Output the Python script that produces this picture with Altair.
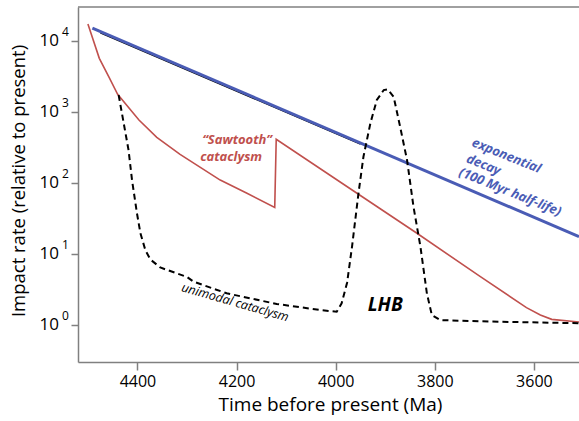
import altair as alt
import pandas as pd

# ---- data -------------------------------------------------------------
# Exponential decay with a 100 Myr half-life (straight on a log axis)
decay_time = [4491, 3509]
decay_rate = [15100, 17.4]

# thin dark companion line drawn just beneath the decay curve
under_time = [4475, 3950]
under_rate = [12900, 348]

# "Sawtooth" cataclysm
saw_time = [4500, 4477, 4458, 4440, 4397, 4361, 4314, 4233, 4179, 4123,
            4120, 3957, 3836, 3708, 3615, 3587, 3564, 3509]
saw_rate = [17200, 5650, 3110, 1760, 764, 436, 251, 109, 71, 45,
            410, 71, 19.4, 4.75, 1.74, 1.37, 1.19, 1.09]

# Unimodal cataclysm (Late Heavy Bombardment spike)
uni_time = [4438, 4418, 4411, 4401, 4394, 4384, 4374, 4354, 4300, 4287,
            4220, 4119, 4031, 3998, 3988, 3977, 3967, 3954, 3944, 3930,
            3917, 3903, 3895, 3883, 3870, 3856, 3843, 3829, 3816, 3806,
            3789, 3668, 3509]
uni_rate = [1720, 288, 109, 37, 19.4, 11.2, 8.3, 6.4, 4.7, 4.04,
            2.77, 1.96, 1.61, 1.52, 2.0, 3.9, 12.6, 71, 232, 687,
            1460, 2020, 2065, 1620, 616, 209, 46, 12.6, 2.77, 1.37,
            1.16, 1.1, 1.05]

x_ticks = [4400, 4200, 4000, 3800, 3600]
y_exponents = [0, 1, 2, 3, 4]

# ---- styling ----------------------------------------------------------
FONT = "Open Sans"
W, H = 501, 355
AXIS_GREY = "#808080"
RED = "#c0504d"
BLUE = "#4a5cb5"

xscale = alt.Scale(domain=[4520, 3509], nice=False, zero=False)
yscale = alt.Scale(type="log", domain=[0.2985, 29850], nice=False)

X = alt.X("time:Q", scale=xscale,
          axis=alt.Axis(values=x_ticks, format="d", grid=False,
                        title="Time before present (Ma)",
                        tickSize=8, tickColor=AXIS_GREY, tickWidth=1.5,
                        domainColor=AXIS_GREY, domainWidth=1.5,
                        labelFont=FONT, labelFontSize=16, labelColor="black",
                        labelPadding=3,
                        titleFont=FONT, titleFontSize=19, titleFontWeight="normal",
                        titleColor="black", titleX=252, titleY=42,
                        titleBaseline="middle", titleAlign="center"))
Y = alt.Y("rate:Q", scale=yscale,
          axis=alt.Axis(values=[10.0 ** e for e in y_exponents], labels=False,
                        grid=False, title="Impact rate (relative to present)",
                        tickSize=7, tickColor=AXIS_GREY, tickWidth=1.5,
                        domainColor=AXIS_GREY, domainWidth=1.5,
                        titleFont=FONT, titleFontSize=18.5, titleFontWeight="normal",
                        titleColor="black", titleAngle=-90, titleX=-60,
                        titleY=173.5, titleBaseline="middle",
                        titleAlign="center"))


def frame(t, r):
    return pd.DataFrame({"time": t, "rate": r, "order": range(len(t))})


under = alt.Chart(frame(under_time, under_rate)).mark_line(
    color="black", strokeWidth=1.2, clip=True
).encode(order="order:Q")

decay = alt.Chart(frame(decay_time, decay_rate)).mark_line(
    color=BLUE, strokeWidth=3, clip=True
).encode(order="order:Q")

saw = alt.Chart(frame(saw_time, saw_rate)).mark_line(
    color=RED, strokeWidth=1.6, clip=True
).encode(order="order:Q")

uni = alt.Chart(frame(uni_time, uni_rate)).mark_line(
    color="black", strokeWidth=2, strokeDash=[6, 4], clip=True
).encode(order="order:Q")

# top frame line
top = alt.Chart(alt.Data(values=[{}])).mark_rule(
    color=AXIS_GREY, strokeWidth=1.5
).encode(x=alt.value(0), x2=alt.value(W), y=alt.value(0))

# y tick labels written as 10 with a raised exponent
ylab = pd.DataFrame({"rate": [10.0 ** e for e in y_exponents],
                     "base": ["10"] * len(y_exponents),
                     "exp": [str(e) for e in y_exponents]})
ybase = alt.Chart(ylab).mark_text(
    align="right", baseline="middle", font=FONT, fontSize=17, color="black"
).encode(x=alt.value(-19), text="base:N")
yexp = alt.Chart(ylab).mark_text(
    align="left", baseline="middle", font=FONT, fontSize=12, color="black", dy=-9
).encode(x=alt.value(-16), text="exp:N")

# annotations
saw_lab = alt.Chart(pd.DataFrame({
    "time": [4199, 4211], "rate": [399, 232],
    "label": ["\u201cSawtooth\u201d", "cataclysm"]})).mark_text(
    font=FONT, fontSize=13, fontWeight="bold", fontStyle="italic",
    color=RED, align="center", baseline="middle"
).encode(text="label:N")

exp_lab = alt.Chart(pd.DataFrame({
    "time": [3724, 3735, 3750], "rate": [374, 221, 143],
    "label": ["exponential", "decay", "(100 Myr half-life)"]})).mark_text(
    font=FONT, fontSize=13, fontWeight="bold", fontStyle="italic",
    color=BLUE, align="left", baseline="middle", angle=22
).encode(text="label:N")

lhb_lab = alt.Chart(pd.DataFrame({
    "time": [3900], "rate": [1.89], "label": ["LHB"]})).mark_text(
    font=FONT, fontSize=19, fontWeight="bold", fontStyle="italic",
    color="black", align="center", baseline="middle"
).encode(text="label:N")

uni_lab = alt.Chart(pd.DataFrame({
    "time": [4203], "rate": [2.06], "label": ["unimodal cataclysm"]})).mark_text(
    font=FONT, fontSize=12.5, fontStyle="italic",
    color="black", align="center", baseline="middle", angle=16
).encode(text="label:N")

chart = alt.layer(
    under, decay, saw, uni, top, ybase, yexp, saw_lab, exp_lab, lhb_lab, uni_lab
).encode(x=X, y=Y).properties(
    width=W, height=H, autosize="none",
    padding={"left": 78, "top": 7, "right": 0, "bottom": 59},
    background="white"
).configure_view(stroke=None)

chart.save("out.html", embed_options={"renderer": "svg", "actions": False})
